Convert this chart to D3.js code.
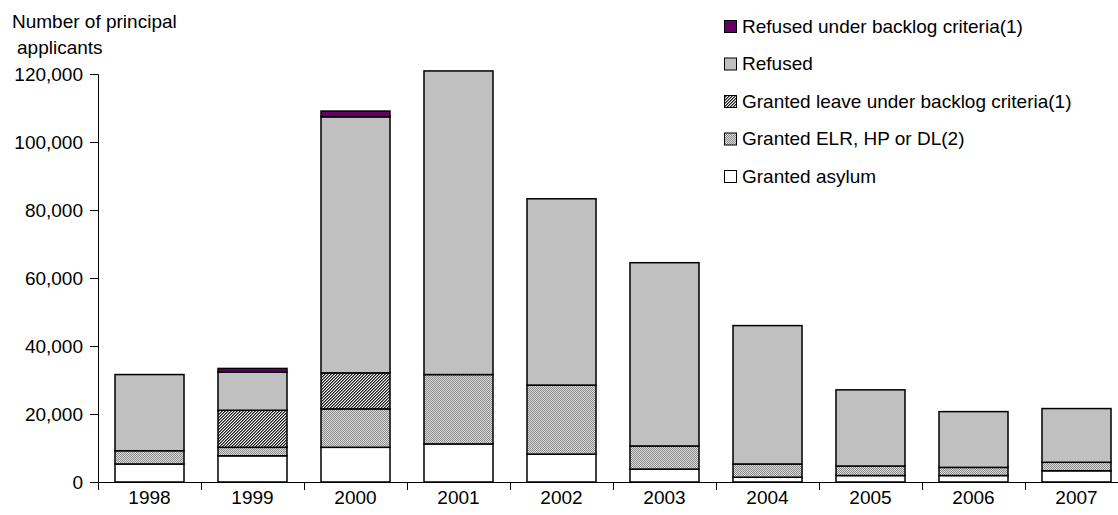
<!DOCTYPE html>
<html>
<head>
<meta charset="utf-8">
<script src="https://cdn.jsdelivr.net/npm/d3@7/dist/d3.min.js"></script>
<style>
  html, body { margin: 0; padding: 0; background: #fff; }
  svg { display: block; }
  text { font-family: "Liberation Sans", Arial, sans-serif; fill: #000; }
</style>
</head>
<body>
<svg id="chart" width="1118" height="515"></svg>
<script>
const years = ["1998","1999","2000","2001","2002","2003","2004","2005","2006","2007"];
const grantedAsylum  = [5300, 7700, 10200, 11200, 8200, 3800, 1400, 1900, 1900, 3300];
const grantedELR     = [3900, 2500, 11300, 20400, 20300, 6800, 3900, 2800, 2400, 2500];
const grantedBacklog = [0, 10900, 10600, 0, 0, 0, 0, 0, 0, 0];
const refused        = [22400, 11200, 75300, 89300, 54800, 53900, 40700, 22400, 16400, 15800];
const refusedBacklog = [0, 1100, 1700, 0, 0, 0, 0, 0, 0, 0];
const yTicks = [0, 20000, 40000, 60000, 80000, 100000, 120000];
const seriesNames = ["Granted asylum", "Granted ELR, HP or DL(2)", "Granted leave under backlog criteria(1)", "Refused", "Refused under backlog criteria(1)"];
const legendOrder = ["Refused under backlog criteria(1)", "Refused", "Granted leave under backlog criteria(1)", "Granted ELR, HP or DL(2)", "Granted asylum"];

const seriesValues = [grantedAsylum, grantedELR, grantedBacklog, refused, refusedBacklog];
const table = years.map((y, i) => {
  const row = { year: y };
  seriesNames.forEach((s, k) => row[s] = seriesValues[k][i]);
  return row;
});

const svg = d3.select("#chart");
const defs = svg.append("defs");

// dotted pattern for ELR
const pDot = defs.append("pattern").attr("id", "dots").attr("patternUnits", "userSpaceOnUse")
  .attr("width", 2).attr("height", 2);
pDot.append("rect").attr("width", 2).attr("height", 2).attr("fill", "#dadada");
pDot.append("rect").attr("x", 0).attr("y", 0).attr("width", 1).attr("height", 1).attr("fill", "#8c8c8c");
pDot.append("rect").attr("x", 1).attr("y", 1).attr("width", 1).attr("height", 1).attr("fill", "#8c8c8c");

// fine diagonal hatch for backlog granted
const pHatch = defs.append("pattern").attr("id", "hatch").attr("patternUnits", "userSpaceOnUse")
  .attr("width", 3).attr("height", 3);
pHatch.append("rect").attr("width", 3).attr("height", 3).attr("fill", "#f4f4f4");
for (let r = 0; r < 3; r++) {
  const c1 = (2 - r + 3) % 3, c2 = (3 - r + 3) % 3;
  pHatch.append("rect").attr("x", c1).attr("y", r).attr("width", 1).attr("height", 1).attr("fill", "#1e1e1e");
  pHatch.append("rect").attr("x", c2).attr("y", r).attr("width", 1).attr("height", 1).attr("fill", "#7a7a7a");
}

const fills = {
  "Granted asylum": "#ffffff",
  "Granted ELR, HP or DL(2)": "url(#dots)",
  "Granted leave under backlog criteria(1)": "url(#hatch)",
  "Refused": "#c0c0c0",
  "Refused under backlog criteria(1)": "#660066"
};

const x = d3.scaleBand().domain(years).range([98, 1128]).paddingInner(0.33).paddingOuter(0.165);
const y = d3.scaleLinear().domain([0, 120000]).range([482, 74]);

const stack = d3.stack().keys(seriesNames);
const stacked = stack(table);

const g = svg.append("g");
stacked.forEach(layer => {
  g.append("g").selectAll("rect")
    .data(layer.filter(d => d[1] - d[0] > 0))
    .join("rect")
    .attr("x", d => x(d.data.year))
    .attr("width", x.bandwidth())
    .attr("y", d => y(d[1]))
    .attr("height", d => y(d[0]) - y(d[1]))
    .attr("fill", fills[layer.key])
    .attr("stroke", "#000")
    .attr("stroke-width", 1.5);
});

// Y axis
const yAxis = d3.axisLeft(y).tickValues(yTicks).tickSize(8).tickPadding(7)
  .tickFormat(d3.format(","));
const ya = svg.append("g").attr("transform", "translate(98,0)").call(yAxis);
ya.select(".domain").attr("stroke", "#000");
ya.selectAll(".tick line").attr("stroke", "#000");
ya.selectAll(".tick text").attr("font-size", "19px").attr("font-family", "Liberation Sans, Arial, sans-serif").attr("fill", "#000");

// X axis
const xa = svg.append("g").attr("transform", "translate(0,482)");
xa.append("line").attr("x1", 98).attr("x2", 1128).attr("y1", 0.5).attr("y2", 0.5).attr("stroke", "#000");
const bounds = years.map(yr => x(yr) - x.step() * x.paddingInner() / 2);
bounds.push(x(years[years.length - 1]) + x.bandwidth() + x.step() * x.paddingInner() / 2);
xa.selectAll("line.tk").data(bounds).join("line").attr("class", "tk")
  .attr("x1", d => Math.round(d) + 0.5).attr("x2", d => Math.round(d) + 0.5)
  .attr("y1", 0).attr("y2", 8).attr("stroke", "#000");
xa.selectAll("text").data(years).join("text")
  .attr("x", d => x(d) + x.bandwidth() / 2)
  .attr("y", 22)
  .attr("text-anchor", "middle")
  .attr("font-size", "19px")
  .text(d => d);

// Y title
svg.append("text").attr("x", 12).attr("y", 28).attr("font-size", "19px").text("Number of principal");
svg.append("text").attr("x", 17).attr("y", 54).attr("font-size", "19px").text("applicants");

// Legend
const lg = svg.append("g");
legendOrder.forEach((name, i) => {
  const cy = 26 + i * 37.5;
  lg.append("rect").attr("x", 724.5).attr("y", cy - 5.5).attr("width", 12).attr("height", 12)
    .attr("fill", fills[name]).attr("stroke", "#000").attr("stroke-width", 1);
  lg.append("text").attr("x", 742).attr("y", cy).attr("dy", "0.36em").attr("font-size", "19px").text(name);
});
</script>
</body>
</html>
